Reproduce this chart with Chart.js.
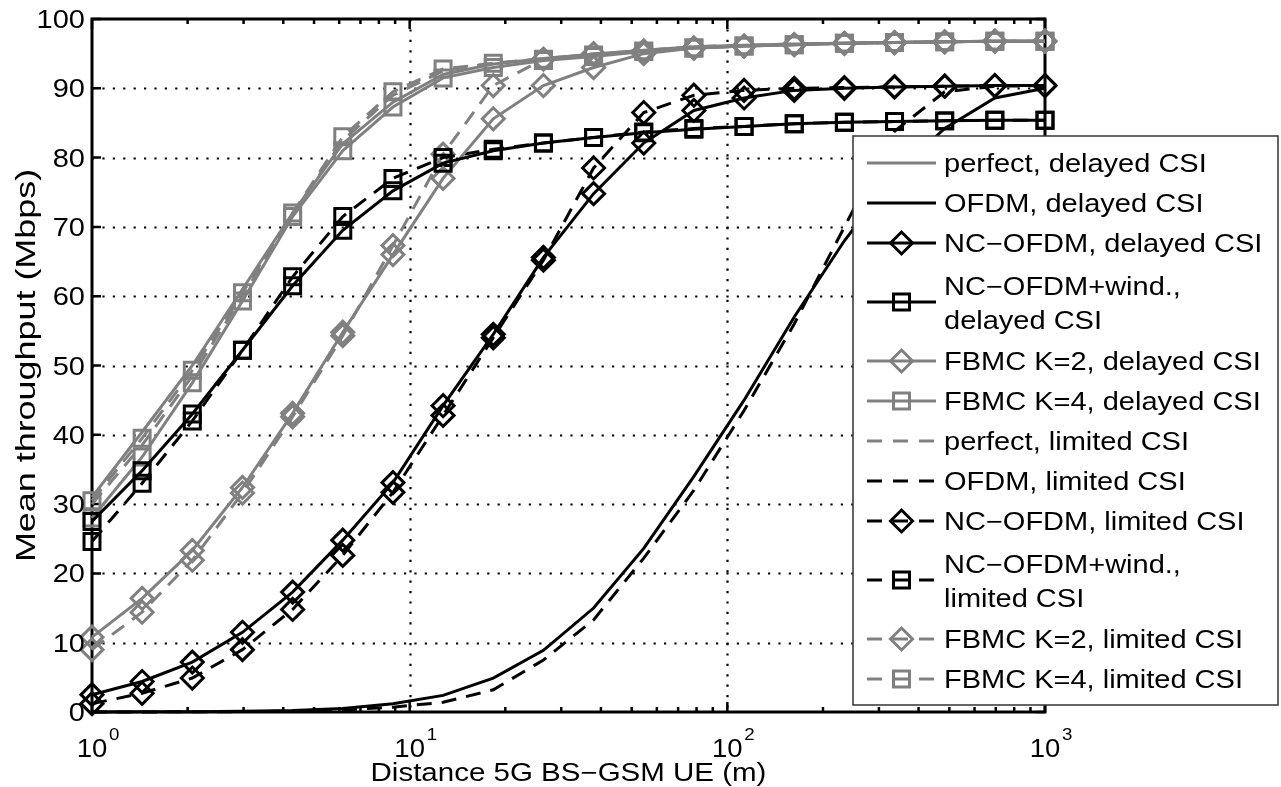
<!DOCTYPE html>
<html>
<head>
<meta charset="utf-8">
<title>Mean throughput vs distance</title>
<script src="https://cdn.jsdelivr.net/npm/chart.js@4.4.1/dist/chart.umd.min.js"></script>
<style>
    html, body { margin: 0; padding: 0; background: #fff; }
    #wrap { width: 1281px; height: 787px; }
</style>
</head>
<body>
<div id="wrap"><canvas id="chart" width="1281" height="787"></canvas></div>
<script>
/* ---------- Data ---------- */
const DIST = [1, 1.438, 2.069, 2.976, 4.281, 6.158, 8.859, 12.74, 18.33, 26.37, 37.93, 54.56, 78.48, 112.9, 162.4, 233.6, 336.0, 483.3, 695.2, 1000];

const PERFECT_DELAYED   = [31, 40.4, 50, 61, 72, 82, 88, 92, 93.5, 94.3, 94.9, 95.5, 96, 96.2, 96.4, 96.5, 96.6, 96.7, 96.8, 96.8];
const OFDM_DELAYED      = [0, 0.02, 0.05, 0.1, 0.2, 0.5, 1.2, 2.4, 4.9, 8.9, 15, 23.6, 34, 45, 57, 68, 77.5, 84.2, 88.6, 90];
const NCOFDM_DELAYED    = [2.5, 4.4, 7.2, 11.5, 17.3, 24.8, 33.1, 44.2, 54.5, 65.6, 74.8, 82.1, 86.8, 88.6, 89.7, 90.0, 90.2, 90.3, 90.4, 90.4];
const NCWIND_DELAYED    = [27.5, 34.8, 43, 52.2, 61.5, 69.5, 75.2, 79.2, 81, 82.1, 82.9, 83.6, 84.1, 84.5, 84.9, 85.1, 85.2, 85.3, 85.4, 85.4];
const FBMC2_DELAYED     = [10.8, 16.4, 23.3, 32.4, 43.1, 54.8, 66, 77, 85.6, 90.4, 93, 95, 95.8, 96.1, 96.3, 96.5, 96.6, 96.7, 96.8, 96.8];
const FBMC4_DELAYED     = [28, 36.8, 47.5, 59.3, 71.5, 81, 87.3, 91.5, 93, 94, 94.6, 95.3, 95.8, 96.1, 96.3, 96.5, 96.6, 96.7, 96.8, 96.8];

const PERFECT_LIMITED   = [30, 38.5, 48.5, 60, 71.8, 82.5, 89, 92.5, 93.6, 94.3, 94.9, 95.5, 96, 96.2, 96.4, 96.5, 96.6, 96.7, 96.8, 96.8];
const OFDM_LIMITED      = [0, 0.01, 0.03, 0.06, 0.12, 0.3, 0.7, 1.4, 3.2, 7.5, 13.3, 22.2, 32, 43.5, 56, 70, 83.8, 89.5, 90.3, 90.4];
const NCOFDM_LIMITED    = [1.2, 2.7, 4.9, 9.0, 14.8, 22.6, 31.7, 42.8, 54.0, 65.2, 78.5, 86.5, 89.0, 89.7, 90.0, 90.1, 90.2, 90.3, 90.4, 90.4];
const NCWIND_LIMITED    = [24.6, 33, 42, 52.2, 62.8, 71.5, 77, 80, 81.2, 82.1, 82.9, 83.7, 84.2, 84.5, 84.9, 85.1, 85.2, 85.3, 85.4, 85.4];
const FBMC2_LIMITED     = [9, 14.4, 21.9, 31.6, 42.6, 54.3, 67.3, 80.5, 90.4, 94.2, 95, 95.4, 95.8, 96.1, 96.3, 96.5, 96.6, 96.7, 96.8, 96.8];
const FBMC4_LIMITED     = [30.5, 39.5, 49.3, 60.5, 72, 83, 89.5, 92.8, 93.6, 94.2, 94.8, 95.4, 95.8, 96.1, 96.3, 96.5, 96.6, 96.7, 96.8, 96.8];

const Y_TICKS = [0, 10, 20, 30, 40, 50, 60, 70, 80, 90, 100];
const X_DECADES = [1, 10, 100, 1000];
const X_EXPONENTS = ["0", "1", "2", "3"];
const X_TITLE = "Distance 5G BS\u2212GSM UE (m)";
const Y_TITLE = "Mean throughput (Mbps)";

/* ---------- Styles ---------- */
const GRAY = "#808080";
const BLACK = "#000000";
const DASH = [15, 10];
const FONT = '"Liberation Sans", Arial, Helvetica, sans-serif';

function series(label, values, color, dashed, marker) {
    return {
        label: label,
        data: values.map(function (v, i) { return { x: DIST[i], y: v }; }),
        borderColor: color,
        borderWidth: 3,
        borderDash: dashed ? DASH : [],
        tension: 0,
        fill: false,
        clip: false,
        pointStyle: marker || false,
        pointRadius: marker === "rect" ? 11.3 : (marker ? 11 : 0),
        pointHoverRadius: 0,
        pointBorderWidth: 3,
        pointBorderColor: color,
        pointBackgroundColor: "rgba(0,0,0,0)"
    };
}

const datasets = [
    series("perfect, delayed CSI", PERFECT_DELAYED, GRAY, false, null),
    series("OFDM, delayed CSI", OFDM_DELAYED, BLACK, false, null),
    series("NC\u2212OFDM, delayed CSI", NCOFDM_DELAYED, BLACK, false, "rectRot"),
    series("NC\u2212OFDM+wind.,\ndelayed CSI", NCWIND_DELAYED, BLACK, false, "rect"),
    series("FBMC K=2, delayed CSI", FBMC2_DELAYED, GRAY, false, "rectRot"),
    series("FBMC K=4, delayed CSI", FBMC4_DELAYED, GRAY, false, "rect"),
    series("perfect, limited CSI", PERFECT_LIMITED, GRAY, true, null),
    series("OFDM, limited CSI", OFDM_LIMITED, BLACK, true, null),
    series("NC\u2212OFDM, limited CSI", NCOFDM_LIMITED, BLACK, true, "rectRot"),
    series("NC\u2212OFDM+wind.,\nlimited CSI", NCWIND_LIMITED, BLACK, true, "rect"),
    series("FBMC K=2, limited CSI", FBMC2_LIMITED, GRAY, true, "rectRot"),
    series("FBMC K=4, limited CSI", FBMC4_LIMITED, GRAY, true, "rect")
];

/* ---------- Text helper (figure text is slightly wide) ---------- */
function wideText(ctx, str, x, y, size, align, sx, rot) {
    ctx.save();
    ctx.translate(x, y);
    if (rot) ctx.rotate(rot);
    ctx.scale(sx, 1);
    ctx.font = size + "px " + FONT;
    ctx.fillStyle = "#000";
    ctx.textAlign = align;
    ctx.textBaseline = "alphabetic";
    ctx.fillText(str, 0, 0);
    ctx.restore();
}

function drawMarker(ctx, style, x, y, r) {
    ctx.beginPath();
    if (style === "rectRot") {
        ctx.moveTo(x - r, y); ctx.lineTo(x, y - r); ctx.lineTo(x + r, y); ctx.lineTo(x, y + r); ctx.closePath();
    } else {
        const s = Math.SQRT1_2 * r;
        ctx.rect(x - s, y - s, 2 * s, 2 * s);
    }
    ctx.stroke();
}

/* ---------- MATLAB-like axes: dotted grid, inward ticks, box ---------- */
const axesPlugin = {
    id: "matlabAxes",
    beforeDatasetsDraw: function (chart) {
        const ctx = chart.ctx, a = chart.chartArea, xs = chart.scales.x, ys = chart.scales.y;
        ctx.save();
        ctx.strokeStyle = "#000";
        ctx.lineWidth = 2.2;
        ctx.setLineDash([2.2, 8.2]);
        Y_TICKS.forEach(function (v) {
            if (v <= ys.min || v >= ys.max) return;
            const y = Math.round(ys.getPixelForValue(v)) + 0.5;
            ctx.beginPath(); ctx.moveTo(a.left, y); ctx.lineTo(a.right, y); ctx.stroke();
        });
        X_DECADES.forEach(function (v) {
            if (v <= xs.min || v >= xs.max) return;
            const x = Math.round(xs.getPixelForValue(v)) + 0.5;
            ctx.beginPath(); ctx.moveTo(x, a.top); ctx.lineTo(x, a.bottom); ctx.stroke();
        });
        ctx.setLineDash([]);
        ctx.lineWidth = 2.5;
        Y_TICKS.forEach(function (v) {
            const y = ys.getPixelForValue(v);
            ctx.beginPath();
            ctx.moveTo(a.left, y); ctx.lineTo(a.left + 9, y);
            ctx.moveTo(a.right, y); ctx.lineTo(a.right - 9, y);
            ctx.stroke();
        });
        X_DECADES.forEach(function (d) {
            const x = xs.getPixelForValue(d);
            ctx.beginPath();
            ctx.moveTo(x, a.bottom); ctx.lineTo(x, a.bottom - 10);
            ctx.moveTo(x, a.top); ctx.lineTo(x, a.top + 10);
            ctx.stroke();
            if (d >= xs.max) return;
            for (let m = 2; m <= 9; m++) {
                const xm = xs.getPixelForValue(d * m);
                ctx.beginPath();
                ctx.moveTo(xm, a.bottom); ctx.lineTo(xm, a.bottom - 5);
                ctx.moveTo(xm, a.top); ctx.lineTo(xm, a.top + 5);
                ctx.stroke();
            }
        });
        ctx.lineWidth = 3;
        ctx.strokeRect(a.left, a.top, a.right - a.left, a.bottom - a.top);
        ctx.restore();
    },
    afterDraw: function (chart) {
        const ctx = chart.ctx, a = chart.chartArea, xs = chart.scales.x, ys = chart.scales.y;
        // tick labels
        Y_TICKS.forEach(function (v) {
            wideText(ctx, String(v), a.left - 7, ys.getPixelForValue(v) + 9, 25, "right", 1.16);
        });
        X_DECADES.forEach(function (d, i) {
            const x = xs.getPixelForValue(d);
            wideText(ctx, "10", x, 757, 25, "center", 1.1);
            wideText(ctx, X_EXPONENTS[i], x + 17, 740, 17, "left", 1.1);
        });
        // axis titles
        wideText(ctx, X_TITLE, (a.left + a.right) / 2, 781, 25, "center", 1.18);
        wideText(ctx, Y_TITLE, 35, (a.top + a.bottom) / 2, 27, "center", 1.33, -Math.PI / 2);

        // legend box
        const L = { left: 853, top: 136, right: 1278, bottom: 705 };
        ctx.save();
        ctx.fillStyle = "#fff";
        ctx.fillRect(L.left, L.top, L.right - L.left, L.bottom - L.top);
        ctx.strokeStyle = "#333";
        ctx.lineWidth = 1.5;
        ctx.strokeRect(L.left, L.top, L.right - L.left, L.bottom - L.top);
        let y = L.top + 7;
        chart.data.datasets.forEach(function (ds) {
            const lines = ds.label.split("\n");
            const h = lines.length > 1 ? 78 : 40;
            const cy = y + h / 2;
            ctx.strokeStyle = ds.borderColor;
            ctx.lineWidth = 3;
            ctx.setLineDash(ds.borderDash.length ? [15, 11] : []);
            ctx.beginPath(); ctx.moveTo(867, cy); ctx.lineTo(936, cy); ctx.stroke();
            ctx.setLineDash([]);
            if (ds.pointStyle) drawMarker(ctx, ds.pointStyle, 901.5, cy, ds.pointRadius);
            if (lines.length > 1) {
                wideText(ctx, lines[0], 944, cy - 7, 25, "left", 1.16);
                wideText(ctx, lines[1], 944, cy + 27, 25, "left", 1.16);
            } else {
                wideText(ctx, lines[0], 944, cy + 9, 25, "left", 1.16);
            }
            y += h;
        });
        ctx.restore();
    }
};

/* ---------- Chart ---------- */
new Chart(document.getElementById("chart").getContext("2d"), {
    type: "line",
    data: { datasets: datasets },
    options: {
        responsive: false,
        animation: false,
        devicePixelRatio: 1,
        layout: { padding: { left: 0, right: 236, top: 19, bottom: 0 } },
        plugins: { legend: { display: false }, tooltip: { enabled: false } },
        scales: {
            x: {
                type: "logarithmic", min: 1, max: 1000,
                grid: { display: false }, border: { display: false },
                ticks: { display: false },
                afterFit: function (s) { s.height = 75; }
            },
            y: {
                type: "linear", min: 0, max: 100,
                grid: { display: false }, border: { display: false },
                ticks: { display: false },
                afterFit: function (s) { s.width = 92; }
            }
        }
    },
    plugins: [axesPlugin]
});
</script>
</body>
</html>
